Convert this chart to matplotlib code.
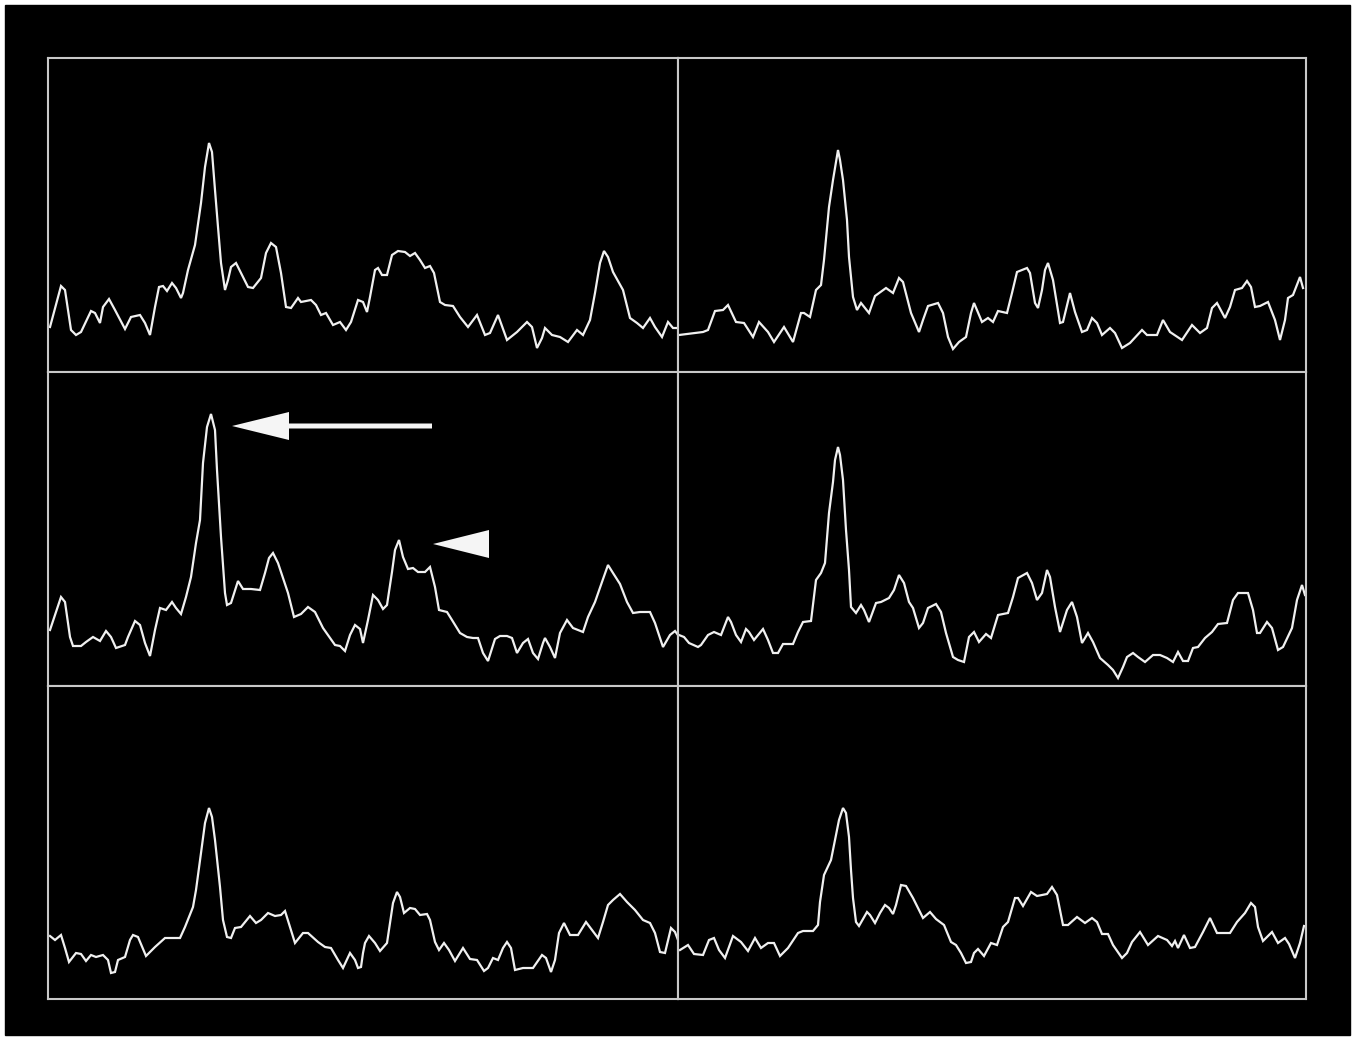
import numpy as np
import matplotlib; matplotlib.use("Agg")
import matplotlib.pyplot as plt
import matplotlib.patches as mpatches

# traces: t = sample position inside panel, a = amplitude (panel units)
TL_T = [2, 13, 17, 23, 28, 33, 43, 47, 52, 55, 61, 67, 77, 83, 92, 97, 102, 107, 111, 115, 119, 124, 128, 133, 135,
        140, 147, 153, 157, 161, 164, 167, 170, 173, 177, 180, 183, 188, 193, 200, 205, 213, 218, 223, 228, 233, 238,
        243, 250, 253, 263, 268, 273, 278, 285, 292, 298, 303, 310, 315, 319, 322, 327, 330, 334, 339, 344, 350, 357,
        362, 367, 372, 377, 382, 386, 392, 397, 405, 412, 420, 429, 437, 442, 450, 459, 469, 479, 484, 489, 494, 497,
        504, 512, 520, 529, 535, 542, 547, 552, 556, 560, 565, 575, 582, 589, 595, 602, 607, 614, 620, 625, 629]
TL_A = [45, 86, 82, 42, 37, 40, 61, 59, 49, 65, 73, 62, 43, 55, 57, 49, 37, 65, 85, 86, 81, 89, 84, 74, 79,
        102, 127, 169, 205, 229, 220, 182, 145, 109, 82, 92, 105, 109, 99, 85, 84, 94, 119, 129, 125, 99, 65,
        64, 74, 70, 72, 67, 57, 59, 47, 50, 42, 50, 72, 70, 60, 75, 102, 104, 97, 97, 117, 121, 120,
        116, 119, 112, 104, 106, 99, 70, 67, 66, 55, 45, 57, 37, 39, 57, 32, 40, 50, 45, 24, 34, 44,
        37, 35, 30, 42, 37, 52, 79, 109, 121, 115, 100, 82, 54, 49, 44, 54, 45, 35, 50, 44, 44]

TR_T = [1, 25, 30, 37, 45, 50, 58, 66, 75, 81, 90, 96, 106, 115, 123, 126, 132, 138, 143, 146, 151, 155, 160, 162,
        165, 169, 171, 175, 179, 183, 191, 197, 208, 215, 221, 225, 233, 241, 245, 250, 260, 265, 270, 275, 281, 288,
        293, 296, 304, 310, 315, 320, 329, 334, 339, 349, 352, 357, 360, 364, 367, 370, 375, 382, 385, 392, 397,
        404, 409, 414, 419, 424, 432, 437, 444, 452, 464, 469, 479, 485, 492, 504, 514, 522, 529, 534, 539, 547,
        552, 557, 564, 569, 573, 577, 582, 590, 597, 602, 607, 610, 615, 622, 625]
TR_A = [37, 40, 42, 61, 62, 67, 50, 49, 35, 50, 40, 30, 45, 30, 59, 59, 55, 82, 87, 112, 165, 192, 222, 212,
        192, 152, 115, 75, 62, 69, 59, 76, 84, 79, 94, 90, 59, 40, 52, 66, 69, 59, 35, 23, 30, 35,
        59, 69, 50, 54, 50, 61, 59, 79, 100, 104, 99, 69, 64, 82, 102, 109, 92, 49, 50, 79, 60,
        40, 42, 54, 49, 37, 44, 39, 24, 29, 42, 37, 37, 52, 40, 32, 47, 39, 44, 64, 69, 54,
        65, 82, 84, 91, 85, 65, 66, 70, 52, 32, 52, 74, 77, 95, 84]

ML_T = [2, 13, 17, 22, 25, 33, 38, 45, 52, 58, 63, 68, 77, 80, 87, 92, 97, 102, 107, 112, 118, 124, 128, 133, 138,
        143, 148, 152, 155, 159, 163, 167, 169, 173, 177, 179, 183, 190, 195, 203, 212, 217, 221, 225, 230, 240,
        246, 253, 260, 267, 275, 287, 292, 297, 302, 307, 312, 315, 320, 325, 330, 335, 339, 344, 347, 351, 355,
        360, 365, 370, 377, 382, 387, 391, 399, 404, 412, 419, 425, 430, 435, 440, 447, 452, 459, 464, 469, 475,
        480, 485, 490, 495, 497, 502, 507, 512, 519, 525, 535, 540, 547, 554, 560, 565, 572, 579, 585, 592, 602,
        607, 612, 615, 622, 627, 630]
ML_A = [56, 89, 84, 49, 40, 40, 44, 49, 45, 55, 49, 38, 41, 49, 65, 61, 43, 30, 56, 78, 76, 84, 78, 72, 89,
        109, 143, 166, 223, 259, 272, 256, 216, 149, 93, 81, 83, 105, 97, 97, 96, 113, 128, 133, 123, 93,
        69, 72, 79, 74, 58, 41, 40, 35, 51, 61, 57, 43, 66, 91, 86, 77, 81, 114, 136, 146, 129,
        117, 118, 114, 114, 119, 99, 76, 74, 66, 53, 49, 48, 48, 33, 25, 47, 50, 50, 48, 33, 43,
        47, 33, 27, 43, 48, 39, 28, 53, 66, 58, 54, 69, 84, 104, 121, 113, 102, 84, 73, 74, 74,
        63, 48, 39, 51, 55, 51]

MR_T = [1, 6, 11, 20, 23, 30, 36, 43, 50, 53, 58, 63, 68, 71, 76, 85, 90, 95, 100, 105, 115, 120, 125, 133, 138,
        143, 147, 151, 155, 157, 160, 162, 165, 168, 171, 173, 178, 183, 186, 191, 198, 203, 211, 216, 221, 226,
        231, 235, 241, 245, 250, 258, 263, 268, 275, 280, 286, 291, 296, 301, 308, 313, 320, 330, 335, 340, 349,
        354, 359, 364, 369, 372, 377, 382, 389, 394, 399, 404, 410, 415, 422, 430, 435, 440, 445, 449, 455, 460,
        467, 475, 482, 489, 495, 500, 505, 510, 515, 520, 527, 534, 540, 549, 555, 560, 570, 575, 579, 582, 589,
        594, 600, 605, 614, 619, 624, 627]
MR_A = [51, 49, 43, 39, 41, 51, 54, 51, 69, 64, 51, 44, 57, 54, 46, 57, 46, 33, 33, 42, 42, 54, 64, 65, 106,
        113, 123, 173, 204, 226, 239, 231, 206, 156, 116, 79, 73, 81, 76, 64, 83, 84, 88, 96, 111, 103,
        84, 78, 58, 63, 78, 82, 74, 53, 29, 26, 24, 49, 54, 44, 52, 48, 71, 73, 89, 108, 113,
        103, 86, 93, 116, 109, 79, 54, 76, 84, 69, 43, 53, 44, 28, 21, 16, 8, 19, 29, 33, 29,
        24, 31, 31, 28, 24, 34, 25, 25, 38, 39, 48, 54, 62, 63, 86, 93, 93, 76, 53, 53, 64,
        58, 36, 39, 58, 86, 101, 91]

BL_T = [2, 7, 13, 17, 21, 28, 33, 38, 43, 48, 55, 60, 63, 67, 70, 77, 82, 85, 90, 98, 107, 117, 132, 137, 145,
        148, 153, 157, 161, 164, 167, 172, 175, 179, 183, 187, 193, 202, 208, 213, 220, 227, 233, 237, 242, 247,
        255, 260, 270, 277, 283, 290, 295, 302, 307, 310, 313, 315, 317, 321, 327, 332, 339, 342, 345, 349, 352,
        356, 362, 367, 372, 379, 382, 387, 391, 396, 401, 407, 415, 422, 429, 436, 440, 445, 450, 455, 459, 463,
        467, 475, 485, 494, 498, 503, 507, 511, 516, 522, 530, 538, 544, 550, 555, 560, 565, 572, 579, 587, 595,
        602, 607, 612, 617, 623, 627, 630]
BL_A = [63, 59, 64, 51, 37, 46, 45, 38, 44, 42, 44, 39, 26, 27, 39, 42, 59, 64, 62, 43, 52, 61, 61, 72, 92,
        109, 146, 176, 191, 182, 159, 112, 79, 62, 61, 71, 72, 83, 76, 79, 86, 83, 84, 88, 72, 56,
        66, 66, 57, 52, 51, 39, 31, 46, 39, 31, 32, 46, 56, 63, 56, 48, 56, 76, 96, 107, 102,
        86, 91, 90, 84, 85, 79, 57, 49, 56, 49, 38, 51, 40, 39, 28, 31, 41, 39, 51, 57, 51,
        29, 31, 31, 44, 41, 27, 39, 66, 76, 64, 64, 77, 69, 61, 77, 94, 99, 105, 97, 89, 79,
        76, 66, 47, 46, 71, 67, 59]

BR_T = [2, 10, 16, 25, 31, 36, 41, 47, 55, 63, 70, 77, 83, 90, 96, 102, 110, 120, 125, 135, 140, 142, 146, 153,
        157, 161, 165, 168, 171, 173, 175, 178, 181, 189, 192, 197, 202, 207, 211, 215, 218, 223, 228, 235, 245,
        252, 258, 266, 273, 278, 283, 288, 293, 296, 300, 306, 313, 319, 325, 330, 337, 340, 345, 353, 359, 369,
        374, 379, 385, 390, 399, 407, 414, 419, 424, 430, 435, 444, 449, 454, 462, 470, 480, 489, 494, 497, 500,
        506, 512, 517, 525, 532, 539, 552, 559, 567, 573, 577, 580, 585, 594, 600, 607, 611, 617, 622, 626]
BR_A = [49, 54, 45, 44, 59, 61, 49, 41, 63, 57, 48, 61, 51, 56, 56, 43, 51, 66, 68, 68, 74, 97, 124, 139,
        159, 179, 191, 186, 162, 129, 101, 77, 73, 87, 84, 76, 86, 94, 91, 85, 94, 114, 113, 101, 81,
        87, 80, 74, 57, 54, 46, 36, 37, 46, 50, 43, 56, 54, 72, 77, 101, 101, 93, 107, 103, 105,
        112, 104, 74, 74, 82, 76, 81, 77, 65, 65, 54, 41, 46, 57, 67, 54, 63, 59, 53, 58, 51,
        64, 51, 52, 67, 81, 66, 66, 77, 86, 96, 92, 72, 58, 67, 56, 61, 55, 41, 56, 73]

TRACES = [[(TL_T, TL_A), (TR_T, TR_A)],
          [(ML_T, ML_A), (MR_T, MR_A)],
          [(BL_T, BL_A), (BR_T, BR_A)]]

W, H = 1355, 1040
COLS = [48, 678, 1306]          # panel edges in pixels
ROWS = [58, 372, 686, 999]
FRAME = "#c8c8c8"
LINE = "#f0f0f0"

fig = plt.figure(figsize=(W / 100, H / 100), dpi=100, facecolor="white")
# black plate with a thin white margin round the picture
fig.patches.append(mpatches.Rectangle((5 / W, 5 / H), 1 - 10 / W, 1 - 10 / H,
                                      transform=fig.transFigure, color="black", zorder=-10))
axes = {}
for r in range(3):
    for c in range(2):
        x0, x1 = COLS[c], COLS[c + 1]
        y0, y1 = ROWS[r], ROWS[r + 1]
        ax = fig.add_axes([x0 / W, 1 - y1 / H, (x1 - x0) / W, (y1 - y0) / H])
        ax.set_facecolor("black")
        ax.set_xlim(0, x1 - x0); ax.set_ylim(0, y1 - y0)
        ax.set_xticks([]); ax.set_yticks([])
        for s in ax.spines.values():
            s.set_color(FRAME); s.set_linewidth(1.5)
        t, a = TRACES[r][c]
        ax.plot(t, a, color=LINE, lw=1.6, solid_joinstyle="miter")
        axes[(r, c)] = ax

# annotation arrows on the middle-left panel
ax = axes[(1, 0)]
ax.add_patch(mpatches.FancyArrow(384, 260, -200, 0, width=5, head_width=28, head_length=57,
                                 length_includes_head=True, color="#f5f5f5", lw=0))
ax.add_patch(mpatches.Polygon([(385, 142), (441, 156), (441, 128)], closed=True,
                              color="#f5f5f5", lw=0))

fig.savefig("out.png", dpi=100, facecolor="white")
